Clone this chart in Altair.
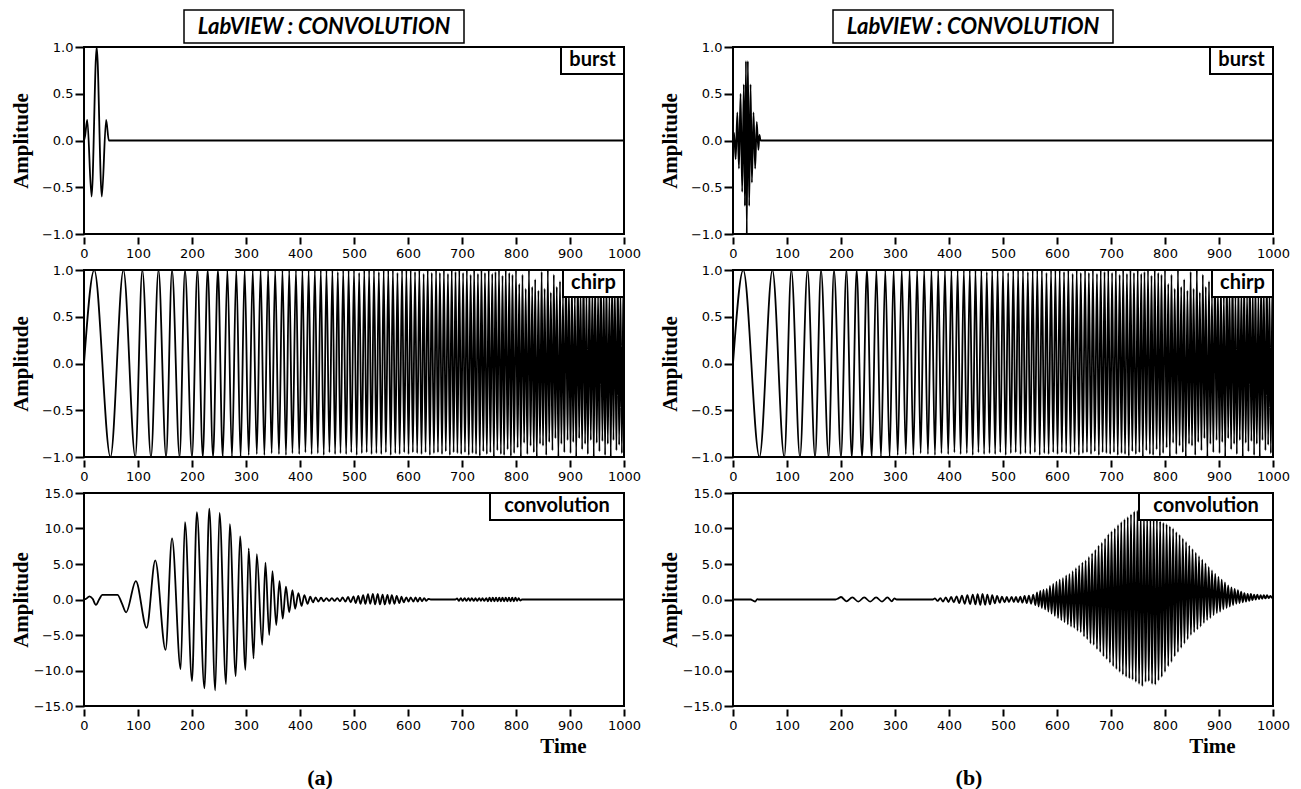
import altair as alt
import pandas as pd

# ---------------- text / ticks ----------------
panel_title = "LabVIEW : CONVOLUTION"
box_labels = ["burst", "chirp", "convolution"]
sub_labels = ["(a)", "(b)"]
time_ticks = [0, 100, 200, 300, 400, 500, 600, 700, 800, 900, 1000]
amp_ticks = [-1.0, -0.5, 0.0, 0.5, 1.0]
conv_ticks = [-15.0, -10.0, -5.0, 0.0, 5.0, 10.0, 15.0]

# ---------------- burst (a): slow wavelet ----------------
burst_a_t = [0, 2, 6, 14, 23.5, 33, 41, 46, 1000]
burst_a_v = [0, 0.05, 0.22, -0.6, 1.0, -0.6, 0.22, 0, 0]

# ---------------- burst (b): fast wavelet ----------------
burst_b_t = [0, 2, 5, 8, 11, 14, 17, 20, 22, 24, 25.5, 27.5, 30, 32.5, 35, 38, 41, 44, 47, 49, 51, 1000]
burst_b_v = [0, 0.08, -0.2, 0.3, -0.3, 0.5, -0.55, 0.6, -0.7, 0.85, -1.0, 0.85, -0.7, 0.6, -0.45, 0.3, -0.3, 0.2, -0.1, 0.06, 0, 0]

# ---------------- chirp (same in both panels): extrema ----------------
chirp_t = [0, 19, 49, 73, 95, 108, 124, 138, 152, 163, 177, 187, 200, 210, 220, 229,
           239, 248, 257, 265.5, 274, 282, 290, 297.5,
           305, 312.5, 320, 327, 334, 341, 347.5, 354, 361, 367.5,
           374, 380, 386, 392.5, 398.5, 404.5, 410, 416, 421.5, 427.5,
           433, 438.5, 444, 449, 454.5, 460, 465, 470, 475, 480,
           485.5, 490, 495, 500, 505, 509.5, 514.5, 519, 523.5, 528,
           532.5, 537, 541.5, 546, 550.5, 555, 559, 563.5, 568, 572,
           576.5, 580.5, 584.5, 589, 593, 597,
           601, 605, 609, 613, 617, 621, 625, 629, 632.5, 636.5, 640.5, 644, 648,
           652, 655.5, 659, 663, 666.5, 670, 674, 677.5, 681, 684.5, 688, 691.5, 695, 698.5,
           702, 705.5, 709, 712.5, 716, 719.5, 722.5, 726, 729.5, 733, 736, 739.5, 742.5, 746, 749.5,
           752.5, 756, 759, 762, 765.5, 768.5, 772, 775, 778, 781, 784.5, 787.5, 790.5, 793.5, 796.5, 800,
           803, 806, 809, 812, 815, 818, 821, 824, 827, 830, 833, 835.5, 838.5, 841.5, 844.5, 847.5,
           850, 853, 856, 859, 861.5, 864.5, 867.5, 870, 873, 875.5, 878.5, 881.5, 884, 887, 889.5, 892.5, 895.5, 898,
           901, 903.5, 906, 909, 911.5, 914.5, 917, 919.5, 922.5, 925, 928, 930.5, 933, 936, 938.5, 941.5, 944, 946.5, 949.5,
           952, 954.5, 957, 960, 962.5, 965, 967.5, 970, 973, 975.5, 978, 980.5, 983, 986, 988.5, 991, 993.5, 996, 999,
           1000]
chirp_v = [0, 1, -1, 1, -1, 1, -1, 1, -1, 1, -1, 1, -1, 1, -1, 1,
           -1, 1, -1, 1, -1, 1, -1, 1,
           -0.98, 1, -0.97, 1, -0.98, 1, -0.96, 1, -0.97, 1,
           -0.98, 1, -0.96, 1, -0.97, 1, -0.95, 1, -0.97, 1,
           -0.96, 1, -0.98, 1, -0.95, 1, -0.97, 0.98, -0.96, 1,
           -0.97, 1, -0.95, 1, -0.98, 0.97, -0.96, 1, -0.95, 1,
           -0.97, 1, -0.96, 0.98, -0.97, 1, -0.95, 1, -0.98, 1,
           -0.96, 0.97, -0.97, 1, -0.95, 1,
           -0.97, 1, -0.95, 0.98, -0.96, 1, -0.97, 0.96, -0.95, 1, -0.98, 0.97, -0.96,
           1, -0.95, 0.97, -0.97, 1, -0.94, 0.96, -0.98, 1, -0.95, 0.98, -0.96, 1, -0.97,
           0.97, -0.95, 1, -0.98, 0.95, -0.96, 1, -0.97, 0.96, -0.99, 1, -0.94, 0.97, -0.97, 1,
           -0.95, 0.96, -1, 0.98, -0.93, 1, -0.97, 0.94, -0.98, 1, -0.92, 0.97, -0.99, 0.95, -0.96, 1,
           -0.9, 0.85, -1, 0.95, -0.85, 0.8, -0.97, 1, -0.88, 0.82, -0.95, 0.9, -1, 0.78, -0.86, 0.98,
           -0.88, 0.8, -0.98, 1, -0.84, 0.76, -0.93, 0.95, -0.8, 0.82, -1, 0.88, -0.86, 0.74, -0.95, 1, -0.82, 0.8,
           -0.96, 0.9, -0.84, 0.72, -1, 0.96, -0.8, 0.78, -0.92, 1, -0.86, 0.74, -0.97, 0.88, -0.82, 0.8, -1, 0.92, -0.85,
           0.76, -0.94, 1, -0.83, 0.8, -0.98, 0.9, -0.86, 0.75, -1, 0.95, -0.82, 0.8, -0.93, 1, -0.87, 0.77, -0.96, 0.9,
           -0.9]

# ---------------- convolution (a) ----------------
conv_a_t = [0, 4, 10, 16, 22, 28, 34, 62, 70, 78,
            96, 116, 132, 151, 163, 179, 187, 200, 209, 223,
            232, 243, 251, 263, 270, 281, 289, 299, 305, 314,
            320, 330, 336, 343, 349, 356, 362, 368, 374, 380,
            386, 391, 397, 403, 408, 414, 419, 424, 429, 434,
            439, 444, 449, 454, 459, 464, 469, 474, 479, 484,
            489, 494, 499, 503, 508, 512, 517, 521, 526, 530,
            535, 539, 544, 548, 553, 557, 562, 566, 570, 575,
            579, 584, 588, 592, 597, 601, 605, 610, 614, 618,
            622, 626, 630, 634, 638, 642, 688, 691, 694, 698,
            701, 705, 708, 712, 715, 718, 722, 725, 728, 732,
            735, 738, 741, 745, 748, 751, 754, 757, 760, 763,
            766, 769, 772, 775, 778, 781, 784, 787, 790, 793,
            796, 799, 802, 805, 808, 811, 1000]
conv_a_v = [0, 0.1, 0.45, 0.1, -0.75, 0, 0.65, 0.65, -0.5, -1.8,
            2.6, -4.0, 5.5, -7.1, 8.6, -9.8, 10.9, -11.5, 12.3, -12.5,
            12.8, -12.8, 12.2, -11.9, 10.6, -10.8, 8.9, -9.9, 7.2, -8.3,
            6.4, -6.4, 5.2, -5.0, 4.0, -3.6, 2.6, -2.7, 1.8, -1.8,
            1.3, -1.3, 0.9, -0.9, 0.6, -0.6, 0.4, -0.4, 0.3, -0.3,
            0.25, -0.25, 0.2, -0.2, 0.2, -0.2, 0.2, -0.25, 0.3, -0.3,
            0.35, -0.4, 0.45, -0.5, 0.5, -0.6, 0.6, -0.6, 0.75, -0.6,
            0.8, -0.7, 0.8, -0.7, 0.7, -0.7, 0.65, -0.6, 0.6, -0.6,
            0.5, -0.5, 0.4, -0.4, 0.3, -0.3, 0.3, -0.3, 0.3, -0.3,
            0.25, -0.25, 0.2, -0.2, 0.1, 0, 0, 0.15, -0.2, 0.2,
            -0.2, 0.2, -0.2, 0.2, -0.2, 0.2, -0.2, 0.2, -0.2, 0.2,
            -0.2, 0.2, -0.2, 0.2, -0.25, 0.25, -0.25, 0.25, -0.25, 0.25,
            -0.25, 0.25, -0.25, 0.25, -0.25, 0.25, -0.25, 0.25, -0.25, 0.25,
            -0.25, 0.25, -0.2, 0.2, -0.15, 0, 0]

# ---------------- convolution (b) ----------------
conv_b_t = [0, 33, 37, 41, 45, 48,
            190, 195, 200, 210, 221, 232, 243, 254, 265, 276,
            286, 294, 299, 303,
            370, 374, 379, 384, 389, 394, 399, 404, 409, 414,
            419, 424, 429, 434, 439, 444, 449, 453, 458, 462,
            467, 471, 476, 480, 485, 489, 494, 498, 503, 507,
            511, 516, 520, 524, 528, 532, 536, 540, 544, 548,
            552, 556,
            560, 563, 566, 569, 572, 575, 578, 581, 584, 587,
            590, 593, 596, 599, 602, 605, 608, 611, 614, 617,
            620, 623, 626, 629, 632, 635, 638, 641, 644, 647,
            650, 653, 656, 659, 662, 665, 668, 671, 674, 677,
            680, 683, 686, 689, 692, 695, 698, 701, 704, 707,
            710, 713, 716, 719, 722, 725, 728, 731, 734, 737,
            740, 743, 746, 749, 752, 755, 758, 761, 764, 767,
            770, 773, 776, 779, 782, 785, 788, 791, 794, 797,
            800, 803, 806, 809, 812, 815, 818, 821, 824, 827,
            830, 833, 836, 839, 842, 845, 848, 851, 854, 857,
            860, 863, 866, 869, 872, 875, 878, 881, 884, 887,
            890, 893, 896, 899, 902, 905, 908, 911, 914, 917,
            920, 923, 926, 929, 932, 935, 938, 941, 944, 947,
            950, 953, 956, 959, 962, 965, 968, 971, 974, 977,
            980, 983, 986, 989, 992, 995, 998, 1000]
conv_b_v = [0, 0, -0.15, -0.3, 0.05, 0,
            0, 0.15, 0.35, -0.25, 0.3, -0.3, 0.3, -0.3, 0.3, -0.3,
            0.3, -0.25, 0.15, 0,
            0, 0.15, -0.2, 0.2, -0.3, 0.3, -0.35, 0.35, -0.4, 0.45,
            -0.5, 0.55, -0.6, 0.6, -0.65, 0.7, -0.7, 0.75, -0.75, 0.8,
            -0.75, 0.7, -0.7, 0.6, -0.55, 0.5, -0.45, 0.4, -0.4, 0.35,
            -0.35, 0.35, -0.35, 0.35, -0.4, 0.4, -0.45, 0.5, -0.5, 0.55,
            -0.6, 0.7,
            -0.8, 1.0, -1.0, 1.2, -1.2, 1.4, -1.4, 1.5, -1.7, 1.9,
            -2.0, 2.2, -2.3, 2.5, -2.6, 2.8, -2.9, 3.0, -3.2, 3.4,
            -3.5, 3.6, -3.8, 4.0, -4.0, 4.4, -4.4, 4.8, -4.6, 5.2,
            -5.2, 5.5, -5.6, 6.0, -6.2, 6.5, -6.4, 7.0, -7.0, 7.6,
            -7.4, 8.0, -8.0, 8.6, -8.4, 9.2, -8.9, 9.6, -9.4, 10.0,
            -9.8, 10.5, -10.2, 10.9, -10.6, 11.3, -10.9, 11.6, -11.1, 12.0,
            -11.3, 12.4, -11.6, 12.5, -11.9, 12.3, -12.2, 12.0, -11.6, 11.8,
            -11.5, 11.6, -11.9, 11.5, -12.0, 11.2, -11.4, 11.0, -10.9, 10.8,
            -10.2, 10.6, -9.4, 10.3, -8.8, 10.0, -8.0, 9.5, -7.4, 9.1,
            -6.8, 8.6, -6.2, 8.1, -5.6, 7.6, -5.0, 7.1, -4.6, 6.6,
            -4.2, 6.1, -3.8, 5.6, -3.3, 5.1, -2.9, 4.6, -2.6, 4.1,
            -2.2, 3.6, -1.9, 3.2, -1.7, 2.8, -1.4, 2.4, -1.2, 2.0,
            -1.0, 1.7, -0.8, 1.5, -0.6, 1.3, -0.5, 1.1, -0.4, 0.9,
            -0.3, 0.8, -0.2, 0.8, -0.1, 0.7, 0.0, 0.7, 0.05, 0.6,
            0.1, 0.6, 0.15, 0.6, 0.2, 0.5, 0.25, 0.4]

# ---------------- styling ----------------
W = 540
H_SIG = 187
H_CONV = 213
TICK_FONT = "DejaVu Sans"
SERIF = "Liberation Serif"
BOX_FONT = "Lato"


def make_panel(t, v, ydom, yticks, h, label, box_w, top=False, bottom=False, sub=None, anchor=False):
    df = pd.DataFrame({"Time": t, "Amplitude": v})
    xaxis = alt.Axis(values=time_ticks, format="d", tickSize=7, tickWidth=2, offset=3,
                     labelPadding=3, labelFlush=False, labelOverlap=False,
                     domain=False, grid=False,
                     titleX=479, titleY=37, titleAlign="center", titleBaseline="middle",
                     titleFont=SERIF, titleFontSize=21, titleFontWeight="bold")
    yaxis = alt.Axis(values=yticks, format=".1f", tickSize=9, tickWidth=2,
                     labelPadding=2, labelFlush=False, labelOverlap=False,
                     domain=False, grid=False,
                     titleX=-63, titleY=h / 2, titleAngle=270, titleAlign="center",
                     titleBaseline="middle", titleFont=SERIF, titleFontSize=21,
                     titleFontWeight="bold")
    line = alt.Chart(df).mark_line(color="black", strokeWidth=1.8, clip=True,
                                   interpolate="monotone").encode(
        x=alt.X("Time:Q", scale=alt.Scale(domain=[0, 1000], nice=False, zero=False),
                axis=xaxis, title="Time" if bottom else None),
        y=alt.Y("Amplitude:Q", scale=alt.Scale(domain=ydom, nice=False, zero=False),
                axis=yaxis, title="Amplitude"),
        order="Time:Q",
    )
    lab = pd.DataFrame({"label": [label]})
    x0 = W - box_w
    box = alt.Chart(lab).mark_rect(fill="white", stroke="black", strokeWidth=2).encode(
        x=alt.value(x0), x2=alt.value(W), y=alt.value(0), y2=alt.value(27))
    txt = alt.Chart(lab).mark_text(font=BOX_FONT, fontSize=20, fontWeight="bold",
                                   align="center", baseline="middle", color="black").encode(
        x=alt.value((x0 + W) / 2), y=alt.value(13), text="label:N")
    layers = [line, box, txt]
    if top:
        td = pd.DataFrame({"label": [panel_title]})
        layers.append(alt.Chart(td).mark_rect(fill="white", stroke="black", strokeWidth=1.5).encode(
            x=alt.value(100), x2=alt.value(380), y=alt.value(-37), y2=alt.value(-4)))
        layers.append(alt.Chart(td).mark_text(font=BOX_FONT, fontSize=22, fontWeight="bold",
                                              fontStyle="italic", align="center",
                                              baseline="middle", color="black").encode(
            x=alt.value(240), y=alt.value(-20), text="label:N"))
    if sub is not None:
        sd = pd.DataFrame({"label": [sub]})
        layers.append(alt.Chart(sd).mark_text(font=SERIF, fontSize=22, fontWeight="bold",
                                              align="center", baseline="middle",
                                              color="black").encode(
            x=alt.value(236), y=alt.value(285), text="label:N"))
    if anchor:
        ad = pd.DataFrame({"label": [""]})
        layers.append(alt.Chart(ad).mark_rect(fill="white", stroke=None).encode(
            x=alt.value(-83), x2=alt.value(-82), y=alt.value(-46), y2=alt.value(-45)))
    return alt.layer(*layers).properties(width=W, height=h)


top_a = make_panel(burst_a_t, burst_a_v, [-1, 1], amp_ticks, H_SIG, box_labels[0], 63, top=True, anchor=True)
top_b = make_panel(burst_b_t, burst_b_v, [-1, 1], amp_ticks, H_SIG, box_labels[0], 63, top=True)
mid_a = make_panel(chirp_t, chirp_v, [-1, 1], amp_ticks, H_SIG, box_labels[1], 61)
mid_b = make_panel(chirp_t, chirp_v, [-1, 1], amp_ticks, H_SIG, box_labels[1], 61)
bot_a = make_panel(conv_a_t, conv_a_v, [-15, 15], conv_ticks, H_CONV, box_labels[2], 134, bottom=True, sub=sub_labels[0])
bot_b = make_panel(conv_b_t, conv_b_v, [-15, 15], conv_ticks, H_CONV, box_labels[2], 134, bottom=True, sub=sub_labels[1])

chart = alt.concat(top_a, top_b, mid_a, mid_b, bot_a, bot_b, columns=2,
                   spacing={"row": 36, "column": 109}, bounds="flush").properties(
    padding=0
).configure(background="white").configure_view(
    stroke="black", strokeWidth=2
).configure_axis(
    labelFont=TICK_FONT, labelFontSize=13, labelColor="black", tickColor="black",
    titleColor="black"
)

chart.save("out.html", embed_options={"renderer": "svg", "actions": False})
